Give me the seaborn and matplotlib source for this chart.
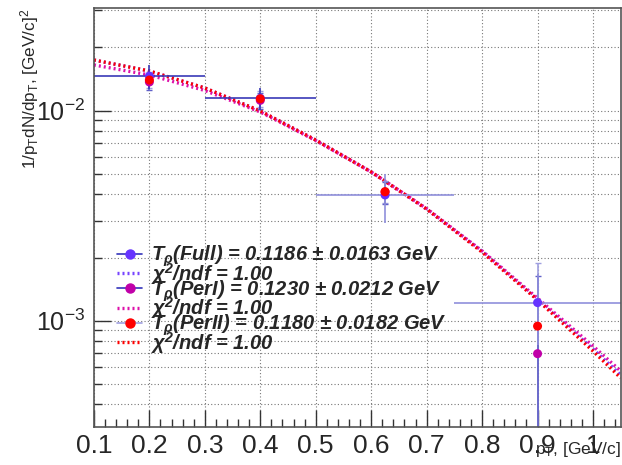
import numpy as np
import pandas as pd
import matplotlib
matplotlib.use("Agg")
import matplotlib.pyplot as plt
import seaborn as sns
from matplotlib.ticker import FixedLocator, NullFormatter, MultipleLocator
from matplotlib.lines import Line2D

# measured points (pT bin centres and half widths)
pt = [0.2, 0.4, 0.625, 0.9]
pt_err = [0.1, 0.1, 0.125, 0.15]

full_y = [0.0146, 0.01146, 0.00397, 0.00122]
full_yerr = [0.0019, 0.0014, 0.00105, 0.00045]
per1_y = [0.0137, 0.0112, 0.0041, 0.000697]
per1_yerr = [0.0012, 0.0010, 0.0005, 0.00093]
per2_y = [0.0140, 0.0114, 0.00412, 0.000943]
per2_yerr = [0.0012, 0.0010, 0.0005, 0.00094]

# fit curves
curve_x = [0.1, 0.2, 0.3, 0.4, 0.5, 0.6, 0.7, 0.8, 0.9, 1.0, 1.05]
full_fit = [0.01743, 0.01545, 0.01283, 0.00997, 0.00725, 0.00511, 0.00340, 0.00214, 0.00126, 0.000733, 0.000551]
per1_fit = [0.01651, 0.01479, 0.01248, 0.00986, 0.00721, 0.00511, 0.00342, 0.00215, 0.00128, 0.000758, 0.000576]
per2_fit = [0.01743, 0.01545, 0.01283, 0.00997, 0.00725, 0.00511, 0.00340, 0.00212, 0.001255, 0.000717, 0.000534]

labels_T = [r"$\mathregular{T_{\rho}}$(Full) = 0.1186 ± 0.0163 GeV",
            r"$\mathregular{T_{\rho}}$(PerI) = 0.1230 ± 0.0212 GeV",
            r"$\mathregular{T_{\rho}}$(PerII) = 0.1180 ± 0.0182 GeV"]
label_chi = r"$\mathregular{\chi^{2}}$/ndf = 1.00"

xtick_vals = [0.1, 0.2, 0.3, 0.4, 0.5, 0.6, 0.7, 0.8, 0.9, 1.0]
xtick_labels = ["0.1", "0.2", "0.3", "0.4", "0.5", "0.6", "0.7", "0.8", "0.9", "1"]

sns.set_theme(style="white")
plt.rcParams['font.family'] = ['Liberation Sans', 'DejaVu Sans']

fig = plt.figure(figsize=(6.22, 4.65), dpi=100)
ax = fig.add_axes([0.151, 0.0817, 0.998 - 0.151, 0.982 - 0.0817])

dots = (0, (0.6, 0.9))

# fit curves
fits = pd.DataFrame({
    "pt": curve_x * 3,
    "val": full_fit + per1_fit + per2_fit,
    "fit": ["full"] * len(curve_x) + ["per1"] * len(curve_x) + ["per2"] * len(curve_x),
})
fit_colors = {"full": "#7744ff", "per1": "#dd11aa", "per2": "#ff0000"}
for name in ["full", "per1", "per2"]:
    sub = fits[fits["fit"] == name]
    sns.lineplot(data=sub, x="pt", y="val", ax=ax, color=fit_colors[name],
                 linestyle=dots, lw=2.4, legend=False)

# data points
eb2 = ax.errorbar(pt, per2_y, yerr=per2_yerr, fmt="none", ecolor="#a0a0e0",
                  elinewidth=1.2, capsize=2)
eb1 = ax.errorbar(pt, per1_y, yerr=per1_yerr, fmt="none", ecolor="#6060c8",
                  elinewidth=1.2, capsize=2)
ebf = ax.errorbar(pt, full_y, xerr=pt_err, yerr=full_yerr, fmt="none",
                  ecolor="#3a3ab8", elinewidth=1.2, capsize=0)
light = "#9090dc"
for coll in ebf[2]:
    coll.set_color(["#3a3ab8", "#3a3ab8", light, light])

pts = pd.DataFrame({
    "pt": pt * 3,
    "val": full_y + per1_y + per2_y,
    "set": ["full"] * 4 + ["per1"] * 4 + ["per2"] * 4,
})
sns.scatterplot(data=pts, x="pt", y="val", hue="set",
                palette={"full": "#6633ff", "per1": "#c000a8", "per2": "#ff0000"},
                s=42, edgecolor="none", ax=ax, legend=False, zorder=5)

ax.set_yscale("log")
ax.set_xlim(0.1, 1.05)
ax.set_ylim(3.12e-4, 0.0307)

ax.xaxis.set_major_locator(FixedLocator(xtick_vals))
ax.set_xticklabels(xtick_labels)
ax.xaxis.set_minor_locator(MultipleLocator(0.02))
ax.yaxis.set_major_locator(FixedLocator([1e-3, 1e-2]))
ax.set_yticklabels([r"$\mathregular{10^{-3}}$", r"$\mathregular{10^{-2}}$"])
minor_y = [m * 10.0 ** e for e in (-4, -3, -2) for m in range(2, 10)]
ax.yaxis.set_minor_locator(FixedLocator(minor_y))
ax.yaxis.set_minor_formatter(NullFormatter())

ax.tick_params(which="major", direction="in", length=12, width=1,
               color="#333333", top=False, right=False, bottom=True, left=True)
ax.tick_params(axis="x", which="major", pad=5, labelsize=19)
ax.tick_params(axis="y", which="major", pad=6, labelsize=18)
ax.tick_params(which="minor", direction="in", length=6, width=1, color="#333333",
               top=False, right=False, bottom=True, left=True)

ax.grid(True, which="major", axis="x", linestyle=(0, (1, 2)), color="#777777", lw=0.8)
ax.grid(True, which="both", axis="y", linestyle=(0, (1, 2)), color="#777777", lw=0.8)
for sp in ax.spines.values():
    sp.set_color("#555555")
    sp.set_linewidth(1.2)

ax.set_xlabel(r"$\mathregular{p_{T}}$, [GeV/c]", fontsize=12.5, loc="right")
ax.xaxis.set_label_coords(1.0, -0.03)
ax.set_ylabel(r"1/$\mathregular{p_{T}}$dN/d$\mathregular{p_{T}}$, [GeV/c]$\mathregular{^{2}}$",
              fontsize=12.3, loc="top")
ax.yaxis.set_label_coords(-0.10, 1.0)

# legend
h_full = (Line2D([], [], color="#3333bb", lw=1.2),
          Line2D([], [], marker="o", color="#6633ff", ms=6.5, ls="none"))
h_p1 = (Line2D([], [], color="#3333bb", lw=1.2),
        Line2D([], [], marker="o", color="#c000a8", ms=6.5, ls="none"))
h_p2 = (Line2D([], [], color="#a0a0e0", lw=1.2),
        Line2D([], [], marker="o", color="#ff0000", ms=6.5, ls="none"))
handles = [h_full, Line2D([], [], color="#7744ff", linestyle=dots, lw=2.4),
           h_p1, Line2D([], [], color="#dd11aa", linestyle=dots, lw=2.4),
           h_p2, Line2D([], [], color="#ff0000", linestyle=dots, lw=2.4)]
texts = [labels_T[0], label_chi, labels_T[1], label_chi, labels_T[2], label_chi]
ax.legend(handles, texts, loc="upper left", bbox_to_anchor=(0.044, 0.438),
          frameon=False, prop={"family": "Liberation Sans", "weight": "bold",
                                "style": "italic", "size": 14.5},
          labelspacing=-0.42, handlelength=1.25, handletextpad=0.45,
          borderpad=0, borderaxespad=0)

fig.savefig("out.png", dpi=100)
